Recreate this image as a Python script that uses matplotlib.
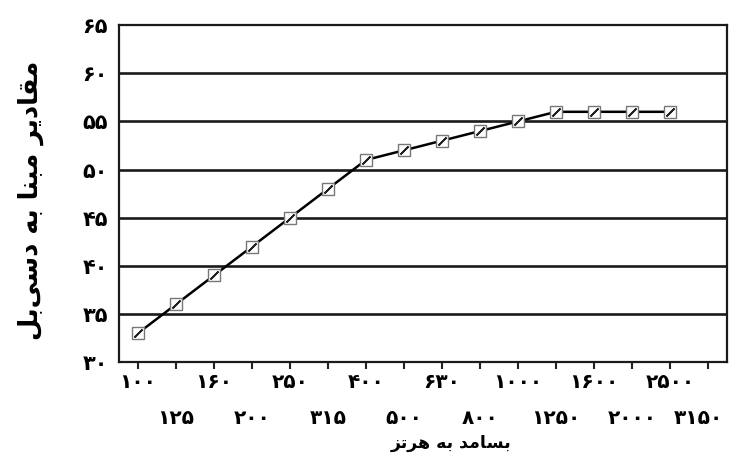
import numpy as np
import matplotlib
matplotlib.use("Agg")
import matplotlib.pyplot as plt
from matplotlib.transforms import ScaledTranslation

## Data
freqs = ["100", "125", "160", "200", "250", "315", "400", "500",
         "630", "800", "1000", "1250", "1600", "2000", "2500", "3150"]
levels = [33, 36, 39, 42, 45, 48, 51, 52, 53, 54, 55, 56, 56, 56, 56]
yticks = [30, 35, 40, 45, 50, 55, 60, 65]

ylabel = "مقادیر مبنا به دسی\u200cبل"
xlabel = "بسامد به هرتز"

# persian digits
fa_digits = str.maketrans("0123456789", "۰۱۲۳۴۵۶۷۸۹")
def fa(s):
    return str(s).translate(fa_digits)

# small hand-made arabic shaper (matplotlib has no text shaping)
# isolated, final, initial, medial
forms = {
    "ا": ("\uFE8D", "\uFE8E", None, None),
    "د": ("\uFEA9", "\uFEAA", None, None),
    "ر": ("\uFEAD", "\uFEAE", None, None),
    "ز": ("\uFEAF", "\uFEB0", None, None),
    "ب": ("\uFE8F", "\uFE90", "\uFE91", "\uFE92"),
    "ت": ("\uFE95", "\uFE96", "\uFE97", "\uFE98"),
    "س": ("\uFEB1", "\uFEB2", "\uFEB3", "\uFEB4"),
    "ق": ("\uFED5", "\uFED6", "\uFED7", "\uFED8"),
    "ل": ("\uFEDD", "\uFEDE", "\uFEDF", "\uFEE0"),
    "م": ("\uFEE1", "\uFEE2", "\uFEE3", "\uFEE4"),
    "ن": ("\uFEE5", "\uFEE6", "\uFEE7", "\uFEE8"),
    "ه": ("\uFEE9", "\uFEEA", "\uFEEB", "\uFEEC"),
    "ی": ("\uFBFC", "\uFBFD", "\uFBFE", "\uFBFF"),
}

def dual(c):
    return c in forms and forms[c][2] is not None

def shape(text):
    out = []
    for i, c in enumerate(text):
        if c not in forms:
            if c != "\u200c":
                out.append(c)
            continue
        prev = text[i - 1] if i > 0 else ""
        nxt = text[i + 1] if i + 1 < len(text) else ""
        pj = dual(prev)
        nj = dual(c) and nxt in forms
        f = forms[c]
        if pj and nj:
            out.append(f[3])
        elif pj:
            out.append(f[1])
        elif nj:
            out.append(f[2])
        else:
            out.append(f[0])
    return "".join(out)[::-1]

plt.rcParams['font.family'] = ['DejaVu Sans']

x = np.arange(len(freqs))

fig = plt.figure(figsize=(7.3, 4.66), dpi=100)
ax = fig.add_axes([0.163, 0.223, 0.833, 0.723])

for yv in yticks[1:-1]:
    ax.axhline(yv, color="#1a1a1a", lw=1.9, zorder=1)

ax.plot(x[:len(levels)], levels, color="black", lw=1.8, zorder=2)
ax.plot(x[:len(levels)], levels, ls="none", marker="s", ms=8,
        mfc="white", mec="#777777", mew=1.0, zorder=3)
ax.plot(x[:len(levels)], levels, ls="none", marker=(2, 2, -45), ms=8,
        mec="#222222", mew=1.3, zorder=4)

ax.set_xlim(-0.5, 15.5)
ax.set_ylim(30, 65)
ax.set_yticks(yticks, labels=[fa(v) for v in yticks])

ax.set_xticks(x[::2], labels=[fa(f) for f in freqs[::2]])
ax.set_xticks(x[1::2], labels=[fa(f) for f in freqs[1::2]], minor=True)
ax.tick_params(axis="x", which="both", direction="out", length=5,
               width=1.5, color="#222222", labelsize=14.5)
ax.tick_params(axis="x", which="major", pad=3)
ax.tick_params(axis="x", which="minor", pad=29)
ax.tick_params(axis="y", length=0, pad=8, labelsize=15)
for lab in ax.get_xticklabels(which="both") + ax.get_yticklabels():
    lab.set_fontweight("bold")

# last label sits close to the right edge
last = ax.get_xticklabels(minor=True)[-1]
last.set_transform(last.get_transform() +
                   ScaledTranslation(-7 / 72, 0, fig.dpi_scale_trans))

for sp in ax.spines.values():
    sp.set_linewidth(1.6)
    sp.set_color("#1a1a1a")

fig.text(0.042, 0.57, shape(ylabel), rotation=90, ha="center", va="center",
         fontsize=18.5, fontweight="bold")
fig.text(0.618, 0.05, shape(xlabel), ha="center", va="center",
         fontsize=12.5, fontweight="bold")

fig.savefig("out.png", dpi=100)
